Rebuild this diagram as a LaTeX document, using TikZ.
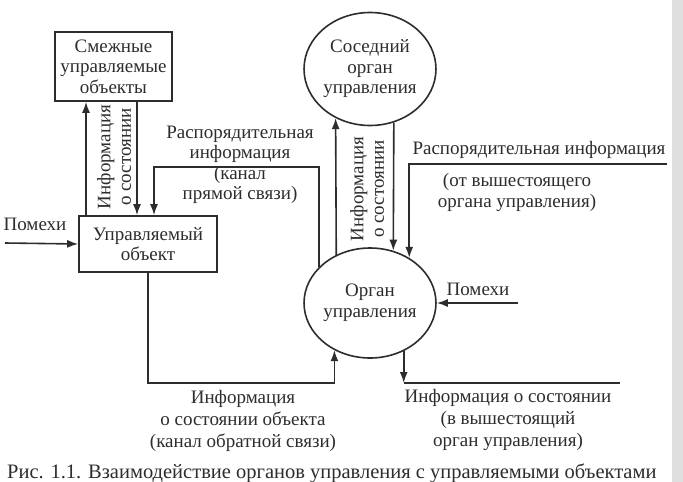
\documentclass[tikz,border=0pt]{standalone}
\usepackage{fontspec}
\setmainfont{Liberation Serif}
\usetikzlibrary{arrows.meta,shapes.geometric}
\definecolor{ink}{RGB}{45,45,45}
\definecolor{edge}{RGB}{222,222,222}
\tikzset{
  lbl/.style={inner sep=0pt, text=ink, font=\fontsize{19}{20.5}\selectfont},
  ln/.style={draw=ink, line width=1.6pt},
  arr/.style={ln, -{Latex[length=11pt,width=8pt]}},
  boxnode/.style={lbl, draw=ink, line width=1.6pt, align=center, rectangle},
  circnode/.style={lbl, draw=ink, line width=1.6pt, align=center, ellipse},
  rot/.style={lbl, rotate=90, align=center}
}
\begin{document}
\begin{tikzpicture}[x=1pt,y=-1pt]
\useasboundingbox (0,0) rectangle (683,482);
\fill[white] (0,0) rectangle (683,482);
\fill[edge] (672,0) rectangle (683,482);

% nodes
\node[boxnode, minimum width=117pt, minimum height=69pt] (smezh) at (113.5,66.5) {Смежные\\управляемые\\объекты};
\node[boxnode, minimum width=138pt, minimum height=56pt] (upr) at (148,244) {Управляемый\\объект};
\node[circnode, minimum width=112pt, minimum height=113pt] (sosed) at (370,69) {Соседний\\орган\\управления};
\node[circnode, minimum width=113pt, minimum height=110pt] (organ) at (370,303) {Орган\\управления};

% coordinates
\coordinate (xa) at (86,0);
\coordinate (xb) at (137,0);
\coordinate (xc) at (154,0);
\coordinate (fy) at (0,167);
\coordinate (rin) at (667,164);
\coordinate (pr) at (518,303);
\coordinate (pl) at (5,243);
\coordinate (by) at (0,383);
\coordinate (outend) at (620,383);

% connectors
\draw[arr] (xa |- upr.north) -- (xa |- smezh.south);
\draw[arr] (xb |- smezh.south) -- (xb |- upr.north);
\draw[arr] (organ.145) -- (organ.145 |- fy) -- (xc |- fy) -- (xc |- upr.north);
\draw[arr] (organ.125) -- (sosed.235);
\draw[arr] (sosed.294) -- (organ.66);
\draw[arr] (rin) -- (rin -| organ.49) -- (organ.49);
\draw[arr] (pr) -- (organ.east);
\draw[arr] (pl) -- (upr.west);
\draw[arr] (organ.305) -- (organ.305 |- by);
\draw[ln] (organ.305 |- by) -- (outend);
\draw[arr] (upr.south) -- (upr.south |- by) -- (organ.233 |- by) -- (organ.233);

% labels
\node[lbl, anchor=base] (pomL) at (35,230) {Помехи};
\node[lbl, anchor=base] (pomR) at (478,295) {Помехи};
\node[rot] (infL) at (114,157) {Информация\\о состоянии};
\node[rot] (infM) at (367,189) {Информация\\о состоянии};
\node[lbl, anchor=base] (rasp1) at (240,138) {Распорядительная};
\node[lbl, anchor=base] (rasp2) at (240,158) {информация};
\node[lbl, anchor=base] (rasp3) at (240,179) {(канал};
\node[lbl, anchor=base] (rasp4) at (240,199) {прямой связи)};
\node[lbl, anchor=base] (raspR1) at (539,154) {Распорядительная информация};
\node[lbl, anchor=base] (raspR2) at (517,186) {(от вышестоящего};
\node[lbl, anchor=base] (raspR3) at (517,207) {органа управления)};
\node[lbl, anchor=base] (fb1) at (243,403) {Информация};
\node[lbl, anchor=base] (fb2) at (243,425) {о состоянии объекта};
\node[lbl, anchor=base] (fb3) at (243,447) {(канал обратной связи)};
\node[lbl, anchor=base] (st1) at (508,402) {Информация о состоянии};
\node[lbl, anchor=base] (st2) at (508,424) {(в вышестоящий};
\node[lbl, anchor=base] (st3) at (508,446) {орган управления)};
\node[lbl, anchor=base west, font=\fontsize{20.5}{22}\selectfont] (cap) at (7,478) {Рис. 1.1. Взаимодействие органов управления с управляемыми объектами};
\end{tikzpicture}
\end{document}
